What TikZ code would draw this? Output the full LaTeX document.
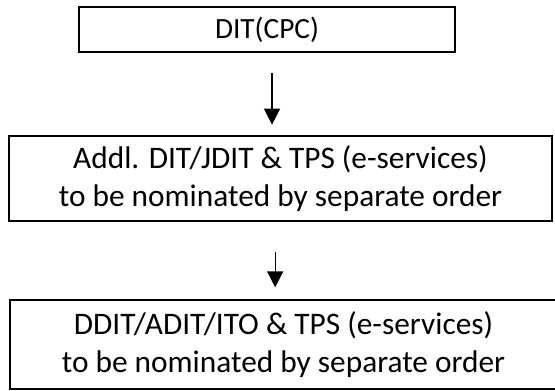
\documentclass[tikz,border=0pt]{standalone}
\usepackage{fontspec}
\setmainfont{Carlito}
\usetikzlibrary{arrows.meta}
\begin{document}
\begin{tikzpicture}[x=0.75pt,y=-0.75pt,
  box/.style={draw, line width=1pt, inner sep=0pt, align=center,
    font=\fontsize{23.5}{28}\selectfont},
  arr/.style={-{Triangle[width=12pt,length=12pt]}, line width=1pt}]
\useasboundingbox (0,0) rectangle (555,390);
% the three levels
\node[box, minimum width=282pt, minimum height=33.75pt, font=\fontsize{22}{26}\selectfont] (dit) at (267,29.5) {DIT(CPC)};
\node[box, minimum width=407.25pt, minimum height=63.75pt] (addl) at (280.5,178.5)
  {Addl. DIT/JDIT \& TPS (e-services)\\to be nominated by separate order};
\node[box, minimum width=410.25pt, minimum height=66.75pt] (ddit) at (283.5,344.5)
  {DDIT/ADIT/ITO \& TPS (e-services)\\to be nominated by separate order};
% arrows
\draw[arr, shorten <=15pt, shorten >=8pt] ([xshift=3.75pt]dit.south) -- ([xshift=3.75pt]dit.south |- addl.north);
\draw[arr, shorten <=23pt, shorten >=9pt] ([xshift=-4pt]addl.south) -- ([xshift=-4pt]addl.south |- ddit.north);
\end{tikzpicture}
\end{document}
